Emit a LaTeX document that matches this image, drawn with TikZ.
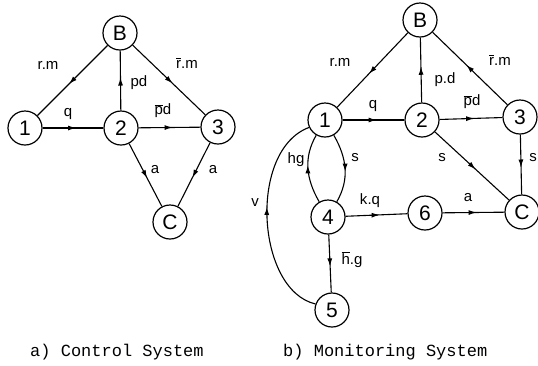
\documentclass[tikz,border=0pt]{standalone}
\usepackage{fontspec}
\setmainfont{Liberation Sans}
\newfontfamily\capfont{Liberation Mono}
\usetikzlibrary{arrows.meta,decorations.markings}
\tikzset{
 st/.style={circle,draw,line width=1.2pt,minimum size=34pt,inner sep=0pt,font=\fontsize{21}{21}\selectfont},
 lab/.style={inner sep=0pt,font=\fontsize{15}{15}\selectfont},
 captxt/.style={inner sep=0pt,anchor=west,font=\capfont\fontsize{17}{17}\selectfont},
 ed/.style={line width=1.1pt,postaction={decorate},decoration={markings,mark=at position #1 with {\arrow{Latex[length=8pt,width=5pt]}}}},
 ed/.default=0.55,
}
\newcommand{\ob}[1]{$\overline{\mbox{#1}}$}
\begin{document}
\begin{tikzpicture}[x=1pt,y=1pt]
\useasboundingbox (0,0) rectangle (538,-365);
% a) control system
\node[st] (aB) at (120,-33) {B};
\node[st] (a1) at (25,-128) {1};
\node[st] (a2) at (121,-128) {2};
\node[st] (a3) at (218,-127) {3};
\node[st] (aC) at (170,-222) {C};
\draw[ed] (aB) -- (a1);
\draw[ed] (a2) -- (aB);
\draw[ed] (aB) -- (a3);
\draw[ed] (a1) -- (a2);
\draw[ed] (a2) -- (a3);
\draw[ed] (a2) -- (aC);
\draw[ed] (a3) -- (aC);
\node[lab] (la1) at (48,-65) {r.m};
\node[lab] (la2) at (68,-114) {q};
\node[lab] (la3) at (139,-83) {pd};
\node[lab] (la4) at (187,-63) {\ob{r}.m};
\node[lab] (la5) at (163,-111) {\ob{p}d};
\node[lab] (la6) at (155,-170) {a};
\node[lab] (la7) at (213,-170) {a};
\node[captxt] (capa) at (30,-352) {a) Control System};
% b) monitoring system
\node[st] (rB) at (420,-20) {B};
\node[st] (r1) at (325,-120) {1};
\node[st] (r2) at (422,-120) {2};
\node[st] (r3) at (520,-117) {3};
\node[st] (r4) at (328,-217) {4};
\node[st] (r6) at (425,-213) {6};
\node[st] (rC) at (522,-212) {C};
\node[st] (r5) at (332,-310) {5};
\draw[ed] (rB) -- (r1);
\draw[ed] (r2) -- (rB);
\draw[ed] (r3) -- (rB);
\draw[ed] (r1) -- (r2);
\draw[ed] (r2) -- (r3);
\draw[ed] (r2) -- (rC);
\draw[ed] (r3) -- (rC);
\draw[ed] (r1.-60) to[out=-60,in=60] (r4.60);
\draw[ed] (r4.120) to[out=120,in=-120] (r1.-120);
\draw[ed] (r4) -- (r6);
\draw[ed] (r6) -- (rC);
\draw[ed] (r4) -- (r5);
\draw[ed] (r5.160) .. controls (256,-290) and (248,-150) .. (r1.205);
\node[lab] (lb1) at (340,-62) {r.m};
\node[lab] (lb2) at (445,-80) {p.d};
\node[lab] (lb3) at (500,-60) {\ob{r}.m};
\node[lab] (lb4) at (373,-106) {q};
\node[lab] (lb5) at (472,-102) {\ob{p}d};
\node[lab] (lb6) at (442,-158) {s};
\node[lab] (lb7) at (533,-158) {s};
\node[lab] (lb8) at (296,-160) {hg};
\node[lab] (lb9) at (355,-158) {s};
\node[lab] (lb10) at (370,-201) {k.q};
\node[lab] (lb11) at (468,-198) {a};
\node[lab] (lb12) at (255,-203) {v};
\node[lab] (lb13) at (352,-260) {\ob{h}.g};
\node[captxt] (capb) at (283,-352) {b) Monitoring System};
\end{tikzpicture}
\end{document}
